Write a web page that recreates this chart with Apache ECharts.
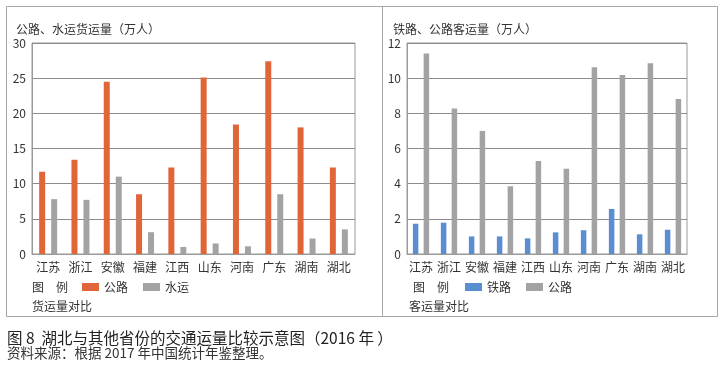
<!DOCTYPE html>
<html>
<head>
<meta charset="utf-8">
<script src="https://cdn.jsdelivr.net/npm/echarts@6/dist/echarts.min.js"></script>
<style>
html,body{margin:0;padding:0;background:#fff;}
#c{width:725px;height:367px;}
</style>
</head>
<body>
<div id="c"></div>
<script>
var provinces = ['江苏','浙江','安徽','福建','江西','山东','河南','广东','湖南','湖北'];
// 货运量（左图）
var freightRoad = [11.7, 13.4, 24.5, 8.5, 12.3, 25.1, 18.4, 27.4, 18.0, 12.3];
var freightWater = [7.8, 7.7, 11.0, 3.1, 1.0, 1.5, 1.1, 8.5, 2.2, 3.5];
// 客运量（右图）
var passengerRail = [1.72, 1.78, 1.0, 1.0, 0.89, 1.23, 1.35, 2.56, 1.12, 1.38];
var passengerRoad = [11.4, 8.27, 7.0, 3.85, 5.29, 4.85, 10.62, 10.18, 10.85, 8.82];

var leftTitle = '公路、水运货运量（万人）';
var rightTitle = '铁路、公路客运量（万人）';
var caption = '图 8  湖北与其他省份的交通运量比较示意图（2016 年 ）';
var source = '资料来源：根据 2017 年中国统计年鉴整理。';

var FONT = '"Noto Sans CJK SC", "Noto Sans", sans-serif';
var TXT = '#333';
var ORANGE = '#E0663A';
var GRAY = '#A3A3A5';
var BLUE = '#5A8ED2';

var chart = echarts.init(document.getElementById('c'), null, {renderer: 'canvas'});

function txt(x, y, s, size, extra) {
  var o = {type: 'text', x: x, y: y, style: {text: s, fill: TXT, font: (size || 12) + 'px ' + FONT, textVerticalAlign: 'middle'}};
  if (extra) for (var k in extra) o.style[k] = extra[k];
  return o;
}
function sw(x, y, color) {
  return {type: 'rect', shape: {x: x, y: y, width: 17, height: 8}, style: {fill: color}};
}

var yLabel = {color: TXT, fontSize: 12, fontFamily: FONT, margin: 6};
var xLabel = {color: TXT, fontSize: 12, fontFamily: FONT, margin: 7, interval: 0};

chart.setOption({
  animation: false,
  textStyle: {fontFamily: FONT},
  grid: [
    {left: 32, top: 43, width: 323, height: 211, show: true, borderColor: '#9a9a9a', borderWidth: 1, backgroundColor: 'transparent'},
    {left: 407, top: 43, width: 280, height: 211, show: true, borderColor: '#9a9a9a', borderWidth: 1, backgroundColor: 'transparent'}
  ],
  xAxis: [
    {type: 'category', gridIndex: 0, data: provinces, axisTick: {show: false}, axisLine: {show: true, lineStyle: {color: '#9a9a9a'}}, axisLabel: xLabel},
    {type: 'category', gridIndex: 1, data: provinces, axisTick: {show: false}, axisLine: {show: true, lineStyle: {color: '#9a9a9a'}}, axisLabel: xLabel}
  ],
  yAxis: [
    {type: 'value', gridIndex: 0, min: 0, max: 30, interval: 5, axisLine: {show: true, lineStyle: {color: '#9a9a9a'}}, axisTick: {show: false}, axisLabel: yLabel, splitLine: {lineStyle: {color: '#8c8c8c', width: 1}}},
    {type: 'value', gridIndex: 1, min: 0, max: 12, interval: 2, axisLine: {show: true, lineStyle: {color: '#9a9a9a'}}, axisTick: {show: false}, axisLabel: yLabel, splitLine: {lineStyle: {color: '#8c8c8c', width: 1}}}
  ],
  series: [
    {name: '公路', type: 'bar', xAxisIndex: 0, yAxisIndex: 0, data: freightRoad, barWidth: 6, barGap: '100%', itemStyle: {color: ORANGE}},
    {name: '水运', type: 'bar', xAxisIndex: 0, yAxisIndex: 0, data: freightWater, barWidth: 6, barGap: '100%', itemStyle: {color: GRAY}},
    {name: '铁路', type: 'bar', xAxisIndex: 1, yAxisIndex: 1, data: passengerRail, barWidth: 5.5, barGap: '96%', itemStyle: {color: BLUE}},
    {name: '公路 ', type: 'bar', xAxisIndex: 1, yAxisIndex: 1, data: passengerRoad, barWidth: 5.5, barGap: '96%', itemStyle: {color: GRAY}}
  ],
  graphic: [
    {type: 'rect', shape: {x: 6.5, y: 6.5, width: 711, height: 310}, style: {fill: 'none', stroke: '#a8a8a8', lineWidth: 1}},
    {type: 'line', shape: {x1: 382.5, y1: 6.5, x2: 382.5, y2: 316.5}, style: {stroke: '#a8a8a8', lineWidth: 1}},
    txt(16, 29, leftTitle, 12),
    txt(393, 29, rightTitle, 12),
    txt(32, 287, '图　例', 12),
    sw(82, 283, ORANGE), txt(104, 287, '公路', 12),
    sw(143, 283, GRAY), txt(165, 287, '水运', 12),
    txt(32, 306, '货运量对比', 12),
    txt(413, 287, '图　例', 12),
    sw(465, 283, BLUE), txt(487, 287, '铁路', 12),
    sw(526, 283, GRAY), txt(548, 287, '公路', 12),
    txt(409, 306, '客运量对比', 12),
    txt(7, 338, caption, 15.5, {fill: '#222'}),
    txt(7, 353, source, 13.5, {fill: '#333'})
  ]
});
</script>
</body>
</html>
